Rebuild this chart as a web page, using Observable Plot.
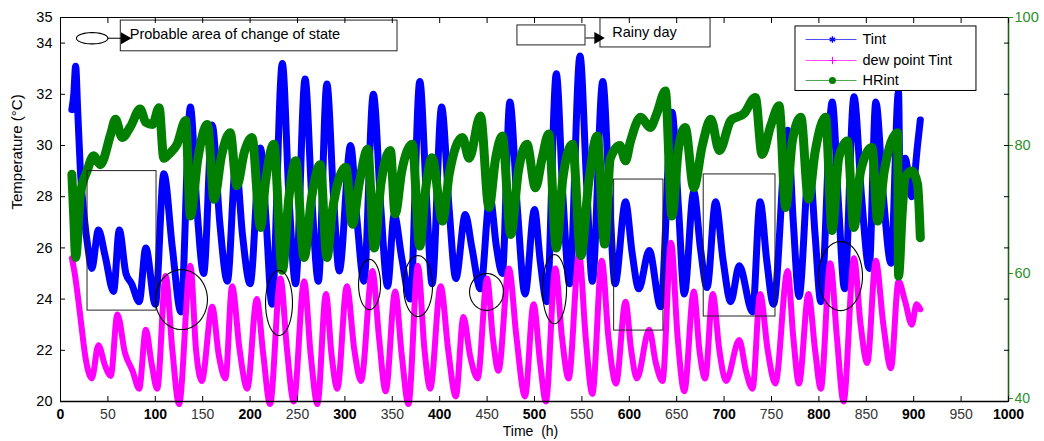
<!DOCTYPE html>
<html>
<head>
<meta charset="utf-8">
<script src="https://cdn.jsdelivr.net/npm/d3@7"></script>
<script src="https://cdn.jsdelivr.net/npm/@observablehq/plot@0.6"></script>
<style>
  html, body { margin: 0; padding: 0; background: #fff; }
  #chart { width: 1044px; height: 441px; }
</style>
</head>
<body>
<div id="chart"></div>
<script>
// ---------- DATA ----------
// Tint (°C) vs time (h): daily peaks / troughs
const tintHours = [12,14,16,18,21,25,29,33,40,47,56,62,69,75,83,90,100,109,118,127,137,144,151,160,168,176,185,192,200,211,217,223,234,241,248,258,265,272,281,288,294,306,313,320,330,338,345,352,360,369,379,386,392,402,410,417,427,434,443,453,460,466,474,482,490,500,506,513,523,530,537,548,555,561,572,579,585,596,603,610,621,633,645,652,658,668,675,682,691,699,707,716,730,738,745,752,767,773,779,790,796,802,814,821,827,837,845,853,860,868,876,884,886,891,898,904,907];
const tintValues = [31.4,32.0,33.1,31.5,29.0,27.2,26.0,25.2,26.7,25.7,24.3,26.7,25.0,24.6,23.9,26.0,23.8,28.9,26.0,23.5,31.5,27.5,25.0,30.8,27.0,24.7,29.3,26.5,24.6,29.9,27.0,23.8,33.2,28.0,24.6,32.6,28.0,24.7,32.4,28.0,25.1,30.0,27.0,24.7,32.0,27.5,24.5,27.3,25.6,24.0,32.5,28.0,24.6,31.5,27.5,24.8,27.3,26.0,24.4,28.0,26.0,25.0,31.7,27.5,24.2,27.5,25.5,23.9,32.8,28.0,24.6,33.5,28.5,24.7,32.5,28.0,24.6,27.8,25.8,24.4,25.9,23.7,31.3,27.5,24.2,28.2,26.0,24.45,27.8,25.5,23.9,25.3,23.5,27.8,25.5,23.8,30.6,27.0,24.1,29.3,26.5,23.9,31.7,27.5,24.4,31.9,28.0,25.2,31.7,28.0,25.4,32.1,27.0,29.5,28.0,30.0,31.0];

// dew point Tint (°C)
const dewHours = [12,15,21,26,33,40,47,53,60,68,76,83,90,96,102,111,118,125,137,143,149,160,167,174,181,189,197,207,214,221,232,239,246,257,264,271,280,286,292,302,310,317,329,336,343,353,360,367,377,384,390,401,409,417,425,432,440,450,456,462,473,481,490,499,506,512,522,529,536,547,554,561,571,578,586,596,602,608,621,628,635,644,651,658,668,674,680,688,695,702,716,723,730,738,746,754,767,773,779,789,796,802,812,819,826,837,844,851,860,868,876,884,891,898,903,907];
const dewValues = [25.6,25.0,23.3,21.8,20.9,22.2,21.4,21.0,23.4,21.9,21.2,20.5,22.8,21.5,20.5,24.9,22.0,19.9,25.3,22.0,20.8,23.7,21.8,20.9,24.5,22.0,20.5,24.0,21.8,19.9,24.8,22.0,20.0,24.7,21.8,19.9,24.2,21.8,20.5,24.5,22.0,20.8,25.1,22.5,20.4,24.3,21.8,19.9,25.3,22.0,20.5,24.5,22.0,20.2,23.3,21.8,20.9,24.8,22.5,21.2,25.2,22.5,20.2,23.8,21.5,20.0,25.2,22.5,20.9,25.75,22.5,20.3,25.5,22.5,20.7,23.9,22.0,20.9,22.8,21.5,20.8,26.2,22.5,20.4,24.3,22.0,20.9,24.2,22.0,20.8,22.4,21.2,20.5,24.2,22.0,20.7,25.1,22.5,20.7,24.2,22.0,20.5,25.4,22.5,20.0,25.6,23.0,21.5,25.5,23.0,21.3,24.7,23.9,23.0,23.8,23.6];

// HRint (%) — right axis
const hrHours = [12,14,16,21,28,35,42,53,58,65,74,84,90,97,104,109,114,123,132,137,145,155,162,170,179,186,194,202,211,216,225,234,241,248,257,265,274,281,287,301,308,315,324,331,338,348,353,360,371,379,385,392,403,410,424,431,443,452,459,466,475,483,492,501,508,515,523,530,540,549,557,566,574,580,590,596,601,612,622,629,638,645,652,659,668,677,686,695,707,721,733,740,749,758,765,772,781,789,796,807,814,821,830,837,844,856,862,869,883,884,888,891,898,904,907];
const hrValues = [75.5,68.8,62.5,72.4,76.0,78.4,77.0,81.8,84.1,81.25,83.0,85.7,83.6,83.3,85.9,78.0,78.6,80.2,83.9,69.0,78.0,83.3,71.6,78.5,82.0,73.7,79.0,81.25,67.2,74.0,80.2,60.5,72.0,77.6,62.5,72.0,77.0,62.5,70.0,76.6,67.7,74.0,79.4,64.0,74.0,79.2,69.3,76.0,80.2,64.3,73.0,78.1,68.2,75.5,81.25,78.0,84.6,70.3,78.0,81.5,66.1,76.0,80.2,73.4,78.0,81.8,64.0,75.0,80.2,62.8,74.0,81.5,64.6,78.0,80.0,77.6,80.5,84.4,82.8,85.0,88.5,69.0,79.7,82.8,73.4,80.0,84.1,79.2,83.9,85.0,87.5,78.6,83.0,86.2,70.3,80.7,84.4,71.6,79.0,84.4,66.7,78.1,80.7,67.2,76.0,79.7,68.2,76.0,82.0,59.6,69.8,75.0,76.0,74.0,65.6];

// Tick labels
const xTicksMajor = [0,100,200,300,400,500,600,700,800,900,1000];
const xTicksMinor = [50,150,250,350,450,550,650,750,850,950];
const yTicksLeft = [20,22,24,26,28,30,32,34,35];
const yTicksRight = [40,60,80,100];

// Series names
const seriesNames = ["Tint", "dew point Tint", "HRint"];

// ---------- ANNOTATIONS (in data units) ----------
const ellipseCenterH = [127.6, 230.5, 326, 377.1, 449.4, 521.1, 822.8, 33.4];
const ellipseCenterT = [23.98, 23.85, 24.57, 24.51, 24.28, 24.39, 24.9, 34.19];
const ellipseRadiusH = [27.4, 14.2, 11.6, 15.3, 17.9, 12.7, 23.2, 16.6];
const ellipseRadiusT = [1.17, 1.27, 0.98, 1.19, 0.72, 1.35, 1.35, 0.22];

const boxX1 = [28.5, 584, 678.5];
const boxX2 = [101.3, 636, 754.2];
const boxY1 = [23.55, 22.77, 23.32];
const boxY2 = [29.0, 28.67, 28.87];

const noteBoxX1 = [63.6, 482, 569.6];
const noteBoxX2 = [355.5, 553.8, 685.7];
const noteBoxY1 = [33.68, 33.91, 33.83];
const noteBoxY2 = [34.88, 34.69, 34.97];
const noteTexts = ["Probable area of change of state", "Rainy day"];
const noteTextX = [73, 582];
const noteTextY = [34.36, 34.42];

const arrowX1 = [49.6, 553.8];
const arrowX2 = [71.7, 571];
const arrowY = [34.19, 34.2];

const legendBox = {x1: 775.3, x2: 966.2, y1: 32.13, y2: 34.65};
const legendRowY = [34.14, 33.32, 32.54];
const legendLineX = [785.9, 839.7];
const legendMarkX = 814.3;
const legendTextX = 846;

// ---------- BUILD ----------
const hrToT = hr => 20 + (hr - 40) * 15 / 60;
const tToHr = t => 40 + (t - 20) * 60 / 15;

const tint = tintHours.map((h, i) => ({h, v: tintValues[i]}));
const dew = dewHours.map((h, i) => ({h, v: dewValues[i]}));
const hr = hrHours.map((h, i) => ({h, v: hrValues[i]}));

const ellipsePts = [];
ellipseCenterH.forEach((cx, k) => {
  for (let i = 0; i <= 72; i++) {
    const a = (i / 72) * 2 * Math.PI;
    ellipsePts.push({id: k, x: cx + ellipseRadiusH[k] * Math.cos(a), y: ellipseCenterT[k] + ellipseRadiusT[k] * Math.sin(a)});
  }
});
const boxes = boxX1.map((x1, i) => ({x1, x2: boxX2[i], y1: boxY1[i], y2: boxY2[i]}));
const noteBoxes = noteBoxX1.map((x1, i) => ({x1, x2: noteBoxX2[i], y1: noteBoxY1[i], y2: noteBoxY2[i]}));
const notes = noteTexts.map((t, i) => ({t, x: noteTextX[i], y: noteTextY[i]}));
const arrows = arrowX1.map((x1, i) => ({x1, x2: arrowX2[i], y: arrowY[i]}));

const colors = ["#0000ff", "#ff00ff", "#007f00"];
const legendRows = seriesNames.map((name, i) => ({name, y: legendRowY[i], c: colors[i]}));

const font = "'Liberation Sans', Arial, Helvetica, sans-serif";
const greenAxis = "#2b8f2b";
const lineOpts = {x: "h", curve: "monotone-x", strokeLinejoin: "round", strokeLinecap: "round"};

const chart = Plot.plot({
  width: 1044,
  height: 441,
  marginLeft: 60,
  marginRight: 36,
  marginTop: 17,
  marginBottom: 40,
  x: {domain: [0, 1000]},
  y: {domain: [20, 35]},
  style: {fontFamily: font, fontSize: "14px", color: "#000", background: "#fff", overflow: "visible"},
  marks: [
    // data series
    Plot.line(tint, {...lineOpts, y: "v", stroke: colors[0], strokeWidth: 7}),
    Plot.line(dew, {...lineOpts, y: "v", stroke: colors[1], strokeWidth: 6}),
    Plot.line(hr, {...lineOpts, y: d => hrToT(d.v), stroke: colors[2], strokeWidth: 9}),

    // annotation rectangles & ellipses
    Plot.rect(boxes, {x1: "x1", x2: "x2", y1: "y1", y2: "y2", fill: "none", stroke: "#222", strokeWidth: 1}),
    Plot.line(ellipsePts.filter(d => d.id < ellipseCenterH.length - 1), {x: "x", y: "y", z: "id", stroke: "#000", strokeWidth: 1.1}),

    // note boxes, arrows, texts
    Plot.rect(noteBoxes, {x1: "x1", x2: "x2", y1: "y1", y2: "y2", fill: "#fff", stroke: "#222", strokeWidth: 1}),
    Plot.link(arrows, {x1: "x1", x2: d => d.x2 - 3, y1: "y", y2: "y", stroke: "#000", strokeWidth: 1}),
    Plot.dot(arrows, {x: "x2", y: "y", symbol: "triangle", rotate: 90, r: 4.5, fill: "#000", stroke: "none", dx: -4}),
    Plot.line(ellipsePts.filter(d => d.id === ellipseCenterH.length - 1), {x: "x", y: "y", stroke: "#000", strokeWidth: 1.1}),
    Plot.text(notes, {x: "x", y: "y", text: "t", textAnchor: "start", fontSize: 14.5, fill: "#000"}),

    // legend
    Plot.rect([legendBox], {x1: "x1", x2: "x2", y1: "y1", y2: "y2", fill: "#fff", stroke: "#000", strokeWidth: 1}),
    Plot.link(legendRows, {x1: legendLineX[0], x2: legendLineX[1], y1: "y", y2: "y", stroke: "c", strokeWidth: 1, strokeOpacity: 0.7}),
    Plot.dot([legendRows[0]], {x: legendMarkX, y: "y", symbol: "asterisk", r: 3, stroke: colors[0], strokeWidth: 1.5}),
    Plot.dot([legendRows[1]], {x: legendMarkX, y: "y", symbol: "plus", r: 2.5, stroke: colors[1], strokeWidth: 1}),
    Plot.dot([legendRows[2]], {x: legendMarkX, y: "y", r: 3.5, fill: colors[2], stroke: "none"}),
    Plot.text(legendRows, {x: legendTextX, y: "y", text: "name", textAnchor: "start", fontSize: 14.5, fill: "#000"}),

    // frame lines
    Plot.ruleY([35], {stroke: "#000", strokeWidth: 1}),
    Plot.ruleY([20], {stroke: "#000", strokeWidth: 1.6}),
    Plot.ruleX([0], {stroke: "#000", strokeWidth: 1}),
    Plot.ruleX([1000], {stroke: "#1b5e1b", strokeWidth: 1.6}),

    // x axis labels
    Plot.axisX({ticks: xTicksMajor, tickSize: 0, tickPadding: 8, fontWeight: "bold", fontSize: 14, tickFormat: d => String(d), label: null}),
    Plot.axisX({ticks: xTicksMinor, tickSize: 0, tickPadding: 8, fontSize: 14, fill: "#333", tickFormat: d => String(d), label: null}),
    // inward tick marks
    Plot.axisX({ticks: [...xTicksMajor, ...xTicksMinor], tickSize: 5, dy: -5, tickFormat: () => "", label: null}),
    Plot.axisX({anchor: "top", ticks: [...xTicksMajor, ...xTicksMinor], tickSize: 5, dy: 5, tickFormat: () => "", label: null}),

    // left y axis
    Plot.axisY({anchor: "left", ticks: yTicksLeft, tickSize: 0, tickPadding: 8, fontSize: 14.5, tickFormat: d => String(d), label: null}),
    Plot.axisY({anchor: "left", ticks: yTicksLeft, tickSize: 5, dx: 5, tickFormat: () => "", label: null}),
    Plot.axisY({anchor: "right", ticks: yTicksLeft.filter(t => t < 35), tickSize: 5, dx: -5, tickFormat: () => "", label: null}),

    // right (HR) axis, green
    Plot.axisY({anchor: "right", ticks: yTicksRight.filter(v => v > 40).map(hrToT), tickSize: 4, tickPadding: 2, fontSize: 14.5, color: greenAxis, tickFormat: t => String(Math.round(tToHr(t))), label: null}),
    Plot.axisY({anchor: "right", ticks: [hrToT(yTicksRight[0])], tickSize: 4, tickPadding: 2, fontSize: 14, dy: -3, color: greenAxis, tickFormat: t => String(Math.round(tToHr(t))), label: null}),

    // axis titles
    Plot.text(["Time\u00a0\u00a0(h)"], {frameAnchor: "bottom", dy: 34, dx: -4, fontSize: 14, fill: "#000"}),
    Plot.text(["Temperature (°C)"], {frameAnchor: "left", dx: -43, rotate: -90, fontSize: 15, fill: "#000"})
  ]
});

document.getElementById("chart").appendChild(chart);
</script>
</body>
</html>
